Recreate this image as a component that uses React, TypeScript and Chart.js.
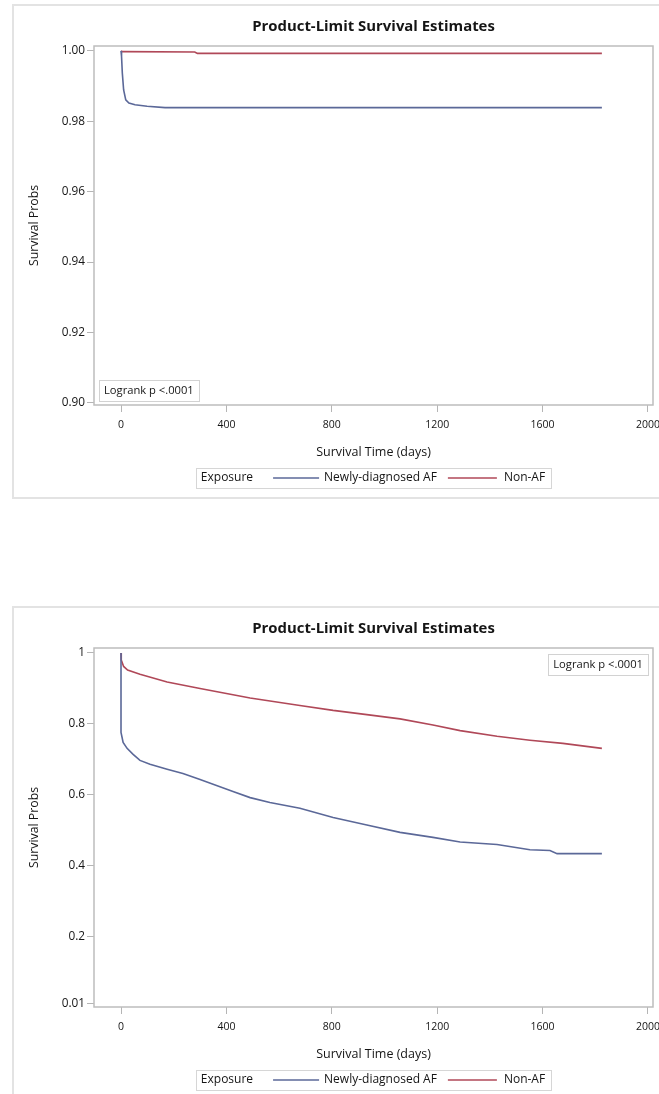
import React, { useEffect, useRef } from 'react';
import { Chart, registerables } from 'chart.js';

Chart.register(...registerables);

const FONT = '"Open Sans", "DejaVu Sans", sans-serif';

const CHART_TITLE = 'Product-Limit Survival Estimates';
const X_TITLE = 'Survival Time (days)';
const Y_TITLE = 'Survival Probs';
const LEGEND_TITLE = 'Exposure';
const LOGRANK_TEXT = 'Logrank p <.0001';
const SERIES_LABELS = ['Newly-diagnosed AF', 'Non-AF'];
const SERIES_COLORS = ['#5b6898', '#b04858'];

const TIME_TICKS = [0, 400, 800, 1200, 1600, 2000];
const TOP_PROB_TICKS = [0.9, 0.92, 0.94, 0.96, 0.98, 1.0];
const BOTTOM_PROB_TICKS = [0.01, 0.2, 0.4, 0.6, 0.8, 1];

// Panel 1 (upper)
const TOP_AF_DAYS = [0, 2, 5, 10, 18, 30, 53, 99, 167, 1825];
const TOP_AF_SURV = [1, 0.9985, 0.9937, 0.9889, 0.9861, 0.9852, 0.9847, 0.9843, 0.9839, 0.9839];
const TOP_NONAF_DAYS = [0, 5, 280, 290, 1825];
const TOP_NONAF_SURV = [1, 0.9998, 0.9997, 0.9993, 0.9993];

// Panel 2 (lower)
const BOTTOM_AF_DAYS = [0, 0, 8, 23, 46, 72, 110, 175, 235, 300, 425, 490, 565, 679, 805, 933, 1059, 1184, 1287, 1427, 1552, 1628, 1655, 1825];
const BOTTOM_AF_SURV = [1, 0.776, 0.748, 0.731, 0.714, 0.697, 0.686, 0.672, 0.66, 0.643, 0.609, 0.592, 0.578, 0.562, 0.536, 0.515, 0.494, 0.48, 0.467, 0.46, 0.445, 0.443, 0.434, 0.434];
const BOTTOM_NONAF_DAYS = [0, 1, 10, 25, 72, 175, 300, 490, 679, 805, 933, 1059, 1184, 1287, 1427, 1552, 1677, 1825];
const BOTTOM_NONAF_SURV = [1, 0.98, 0.962, 0.952, 0.94, 0.918, 0.9, 0.873, 0.852, 0.838, 0.826, 0.814, 0.797, 0.781, 0.765, 0.754, 0.745, 0.731];

const toPoints = (xs: number[], ys: number[]) => xs.map((x, i) => ({ x, y: ys[i] }));

type PanelProps = {
  top: number;
  height: number;
  frameTop: number;
  frameBottom: number | null;
  areaTop: number;
  yMin: number;
  yMax: number;
  yTicks: number[];
  yFormat: (v: number) => string;
  af: { x: number; y: number }[];
  nonAf: { x: number; y: number }[];
  logrank: 'bottom-left' | 'top-right';
};

const W = 659;
const TEXT = '#151515';

function Panel(p: PanelProps) {
  const ref = useRef<HTMLCanvasElement | null>(null);
  useEffect(() => {
    const canvas = ref.current;
    if (!canvas) return;
    const xAxisH = 60;
    const areaBottomPad = p.height - (p.areaTop + 359) - xAxisH;

    const decor = {
      id: 'decor',
      beforeDraw(chart: any) {
        const ctx = chart.ctx;
        ctx.save();
        ctx.fillStyle = '#ffffff';
        ctx.fillRect(0, 0, chart.width, chart.height);
        ctx.strokeStyle = '#e3e3e3';
        ctx.lineWidth = 2;
        ctx.beginPath();
        const fb = p.frameBottom == null ? chart.height + 5 : p.frameBottom;
        ctx.moveTo(W + 5, p.frameTop);
        ctx.lineTo(13, p.frameTop);
        ctx.lineTo(13, fb);
        ctx.lineTo(W + 5, fb);
        ctx.stroke();
        ctx.restore();
      },
      beforeDatasetsDraw(chart: any) {
        const { ctx, chartArea: a } = chart;
        ctx.save();
        ctx.strokeStyle = '#bdbdbd';
        ctx.lineWidth = 1.5;
        ctx.strokeRect(a.left, a.top, a.right - a.left, a.bottom - a.top);
        ctx.restore();
      },
      afterDraw(chart: any) {
        const { ctx, chartArea: a } = chart;
        ctx.save();
        // title
        ctx.fillStyle = TEXT;
        ctx.font = `bold 14.9px ${FONT}`;
        ctx.textAlign = 'center';
        ctx.textBaseline = 'middle';
        ctx.fillText(CHART_TITLE, (a.left + a.right) / 2, p.areaTop - 19);

        // logrank box
        ctx.font = `11.2px ${FONT}`;
        const lw = ctx.measureText(LOGRANK_TEXT).width + 10;
        const lh = 21;
        let bx: number, by: number;
        if (p.logrank === 'bottom-left') {
          bx = a.left + 5;
          by = a.bottom - 4 - lh;
        } else {
          bx = a.right - 5 - lw;
          by = a.top + 6;
        }
        ctx.fillStyle = '#ffffff';
        ctx.fillRect(bx, by, lw, lh);
        ctx.strokeStyle = '#d2d2d2';
        ctx.lineWidth = 1;
        ctx.strokeRect(Math.round(bx) + 0.5, Math.round(by) + 0.5, Math.round(lw), lh);
        ctx.fillStyle = TEXT;
        ctx.textAlign = 'left';
        ctx.fillText(LOGRANK_TEXT, bx + 5, by + lh / 2 + 0.5);

        // legend
        ctx.font = `12px ${FONT}`;
        const ds = chart.data.datasets;
        const wT = ctx.measureText(LEGEND_TITLE).width;
        const w1 = ctx.measureText(ds[0].label).width;
        const w2 = ctx.measureText(ds[1].label).width;
        const line1 = 46;
        const line2 = 49;
        const total = 5 + wT + 20 + line1 + 5 + w1 + 11 + line2 + 7 + w2 + 6;
        const cx = (a.left + a.right) / 2;
        let x = cx - total / 2;
        const ly = a.bottom + 73;
        ctx.strokeStyle = '#d6d6d6';
        ctx.lineWidth = 1;
        ctx.strokeRect(Math.round(x) + 0.5, ly - 10 + 0.5, Math.round(total), 20);
        ctx.fillStyle = TEXT;
        x += 5;
        ctx.fillText(LEGEND_TITLE, x, ly);
        x += wT + 20;
        ctx.strokeStyle = ds[0].borderColor;
        ctx.lineWidth = 1.3;
        ctx.beginPath();
        ctx.moveTo(x, ly);
        ctx.lineTo(x + line1, ly);
        ctx.stroke();
        x += line1 + 5;
        ctx.fillText(ds[0].label, x, ly);
        x += w1 + 11;
        ctx.strokeStyle = ds[1].borderColor;
        ctx.beginPath();
        ctx.moveTo(x, ly);
        ctx.lineTo(x + line2, ly);
        ctx.stroke();
        x += line2 + 7;
        ctx.fillText(ds[1].label, x, ly);
        ctx.restore();
      },
    };

    const chart = new Chart(canvas, {
      type: 'line',
      data: {
        datasets: [
          {
            label: SERIES_LABELS[0],
            data: p.af,
            borderColor: SERIES_COLORS[0],
            borderWidth: 1.6,
            pointRadius: 0,
            tension: 0,
          },
          {
            label: SERIES_LABELS[1],
            data: p.nonAf,
            borderColor: SERIES_COLORS[1],
            borderWidth: 1.6,
            pointRadius: 0,
            tension: 0,
          },
        ],
      },
      options: {
        responsive: false,
        animation: false,
        devicePixelRatio: 1,
        layout: { padding: { left: 12, right: 6, top: p.areaTop, bottom: areaBottomPad } },
        plugins: { legend: { display: false }, tooltip: { enabled: false }, title: { display: false } },
        scales: {
          x: {
            type: 'linear',
            min: -102.5,
            max: 2019,
            afterBuildTicks: (s: any) => {
              s.ticks = TIME_TICKS.map((v) => ({ value: v }));
            },
            afterFit: (s: any) => {
              s.height = xAxisH;
              s.paddingLeft = 0;
              s.paddingRight = 0;
            },
            ticks: {
              color: TEXT,
              font: { family: FONT, size: 10.5 },
              padding: 7,
              maxRotation: 0,
              callback: (v: any) => String(v),
            },
            grid: { display: true, drawOnChartArea: false, drawTicks: true, tickLength: 7, color: '#b5b5b5' },
            border: { display: false },
            title: {
              display: true,
              text: X_TITLE,
              color: TEXT,
              font: { family: FONT, size: 12.5 },
              padding: { top: 0, bottom: 5.5 },
            },
          },
          y: {
            type: 'linear',
            min: p.yMin,
            max: p.yMax,
            afterBuildTicks: (s: any) => {
              s.ticks = p.yTicks.map((v) => ({ value: v }));
            },
            afterFit: (s: any) => {
              s.width = 82;
              s.paddingTop = 0;
              s.paddingBottom = 0;
            },
            ticks: {
              color: TEXT,
              font: { family: FONT, size: 11.8 },
              padding: 2,
              callback: (v: any) => p.yFormat(Number(v)),
            },
            grid: { display: true, drawOnChartArea: false, drawTicks: true, tickLength: 7, color: '#b5b5b5' },
            border: { display: false },
            title: {
              display: true,
              text: Y_TITLE,
              color: TEXT,
              font: { family: FONT, size: 12.3 },
              padding: { top: 15.5, bottom: 0 },
            },
          },
        },
      },
      plugins: [decor],
    } as any);
    return () => chart.destroy();
  }, []);

  return (
    <canvas
      ref={ref}
      width={W}
      height={p.height}
      style={{ position: 'absolute', left: 0, top: p.top, width: W, height: p.height, display: 'block' }}
    />
  );
}

export default function App() {
  return (
    <div style={{ position: 'absolute', left: 0, top: 0, width: W, height: 1094, background: '#fff', overflow: 'hidden' }}>
      <Panel
        top={0}
        height={550}
        frameTop={5}
        frameBottom={498}
        areaTop={46}
        yMin={0.8994}
        yMax={1.0014}
        yTicks={TOP_PROB_TICKS}
        yFormat={(v) => v.toFixed(2)}
        af={toPoints(TOP_AF_DAYS, TOP_AF_SURV)}
        nonAf={toPoints(TOP_NONAF_DAYS, TOP_NONAF_SURV)}
        logrank="bottom-left"
      />
      <Panel
        top={550}
        height={544}
        frameTop={57}
        frameBottom={null}
        areaTop={98}
        yMin={0.0015}
        yMax={1.014}
        yTicks={BOTTOM_PROB_TICKS}
        yFormat={(v) => String(v)}
        af={toPoints(BOTTOM_AF_DAYS, BOTTOM_AF_SURV)}
        nonAf={toPoints(BOTTOM_NONAF_DAYS, BOTTOM_NONAF_SURV)}
        logrank="top-right"
      />
    </div>
  );
}
